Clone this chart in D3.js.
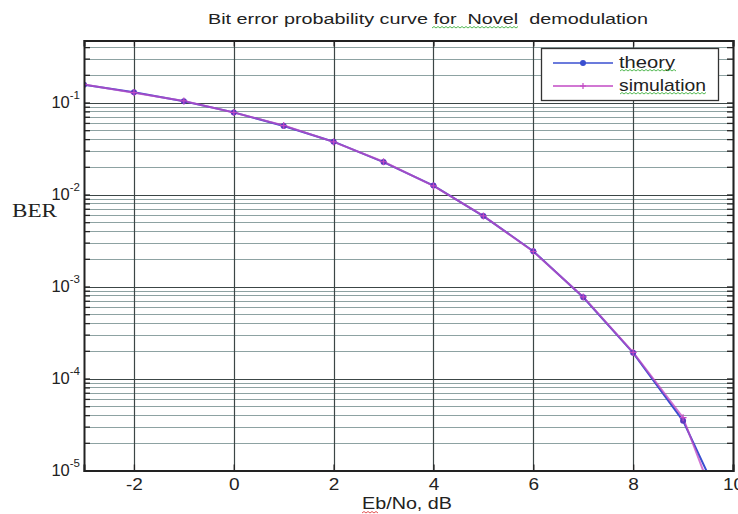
<!DOCTYPE html>
<html>
<head>
<meta charset="utf-8">
<script src="https://cdn.jsdelivr.net/npm/d3@7"></script>
<style>
  body { margin: 0; background: #fff; }
  text { font-family: "Liberation Sans", Arial, sans-serif; }
</style>
</head>
<body>
<div id="chart"></div>
<script>
// Eb/No points (dB)
var ebno = [-3, -2, -1, 0, 1, 2, 3, 4, 5, 6, 7, 8, 9, 10];
// bit error rate, theory
var ber_theory = [0.156, 0.129, 0.103, 0.0781, 0.0556, 0.0375, 0.0225, 0.0125,
                  0.00583, 0.00242, 7.64e-4, 1.9e-4, 3.47e-5, 2.4e-6];
// bit error rate, simulation
var ber_sim = [0.157, 0.128, 0.104, 0.0779, 0.0562, 0.0373, 0.0227, 0.0124,
               0.00585, 0.00240, 7.70e-4, 1.92e-4, 3.75e-5, 1.4e-6];
var x_ticks = [-2, 0, 2, 4, 6, 8, 10];
var y_major = [1e-5, 1e-4, 1e-3, 1e-2, 1e-1];
var y_labels = ["-5", "-4", "-3", "-2", "-1"];
var legend_names = ["theory", "simulation"];

var svg_size = { 'width': 738, 'height': 514 };
var plot = { 'left': 84, 'right': 733, 'top': 40.5, 'bottom': 470.5 };

var svg = d3.select("#chart")
    .append("svg")
    .attr('width', svg_size.width)
    .attr('height', svg_size.height);

var x_scale = d3.scaleLinear()
    .domain([-3, 10])
    .range([plot.left, plot.right]);

var y_scale = d3.scaleLog()
    .domain([1e-5, Math.pow(10, -0.326)])
    .range([plot.bottom, plot.top]);

// minor log ticks
var y_minor = [];
for (var k = -5; k <= -1; k++) {
    for (var m = 2; m <= 9; m++) {
        var v = m * Math.pow(10, k);
        if (v <= y_scale.domain()[1]) y_minor.push(v);
    }
}

// wavy spell-check underline, as in the picture
function squiggle(x1, x2, y, color) {
    var p = 'M' + x1 + ',' + y;
    for (var xx = x1, up = true; xx < x2; xx += 2, up = !up) {
        p += 'L' + (xx + 2) + ',' + (up ? y - 1.5 : y);
    }
    svg.append('path').attr('d', p)
        .style('fill', 'none').style('stroke', color).style('stroke-width', 0.9);
}

svg.append('rect')
    .attr('x', plot.left).attr('y', plot.top)
    .attr('width', plot.right - plot.left)
    .attr('height', plot.bottom - plot.top)
    .style('fill', '#fff');

// grid
var grid = svg.append('g');
grid.selectAll('.minor-h')
    .data(y_minor)
    .enter().append('line')
    .attr('x1', plot.left).attr('x2', plot.right)
    .attr('y1', function(d){ return Math.round(y_scale(d)) + 0.5; })
    .attr('y2', function(d){ return Math.round(y_scale(d)) + 0.5; })
    .style('stroke', '#8da2a2')
    .style('stroke-width', 1.2);

grid.selectAll('.major-h')
    .data(y_major)
    .enter().append('line')
    .attr('x1', plot.left).attr('x2', plot.right)
    .attr('y1', function(d){ return Math.round(y_scale(d)) + 0.5; })
    .attr('y2', function(d){ return Math.round(y_scale(d)) + 0.5; })
    .style('stroke', '#3c4646')
    .style('stroke-width', 1.2);

grid.selectAll('.major-v')
    .data(x_ticks)
    .enter().append('line')
    .attr('x1', function(d){ return Math.round(x_scale(d)) + 0.5; })
    .attr('x2', function(d){ return Math.round(x_scale(d)) + 0.5; })
    .attr('y1', plot.top).attr('y2', plot.bottom)
    .style('stroke', '#3c4646')
    .style('stroke-width', 1.2);

// curves
svg.append('clipPath').attr('id', 'clip')
    .append('rect')
    .attr('x', plot.left).attr('y', plot.top)
    .attr('width', plot.right - plot.left)
    .attr('height', plot.bottom - plot.top);

var curves = svg.append('g').attr('clip-path', 'url(#clip)');

var ber_line = d3.line()
    .x(function(d, i){ return x_scale(ebno[i]); })
    .y(function(d){ return y_scale(d); });

curves.append('path')
    .datum(ber_theory)
    .attr('d', ber_line)
    .style('fill', 'none')
    .style('stroke', '#3a4fd0')
    .style('stroke-width', 2);

curves.append('path')
    .datum(ber_sim)
    .attr('d', ber_line)
    .style('fill', 'none')
    .style('stroke', '#c24ac4')
    .style('stroke-width', 2)
    .style('opacity', 0.75);

curves.selectAll('.dot')
    .data(ber_theory)
    .enter().append('circle')
    .attr('cx', function(d, i){ return x_scale(ebno[i]); })
    .attr('cy', function(d){ return y_scale(d); })
    .attr('r', 3)
    .style('fill', '#5a3ac0');

curves.selectAll('.plus')
    .data(ber_sim)
    .enter().append('path')
    .attr('d', function(d, i){
        var cx = x_scale(ebno[i]), cy = y_scale(d);
        return 'M' + (cx - 3.5) + ',' + cy + 'H' + (cx + 3.5) +
               'M' + cx + ',' + (cy - 3.5) + 'V' + (cy + 3.5);
    })
    .style('stroke', '#c24ac4')
    .style('stroke-width', 1.2);

// axes, MATLAB style ticks inside
var axis_color = '#222';
var x_bottom = svg.append('g')
    .attr('transform', 'translate(0,' + plot.bottom + ')')
    .call(d3.axisBottom(x_scale).tickValues(x_ticks).tickSize(-6).tickPadding(7)
        .tickFormat(function(d){ return String(d); }));
var x_top = svg.append('g')
    .attr('transform', 'translate(0,' + plot.top + ')')
    .call(d3.axisTop(x_scale).tickValues(x_ticks).tickSize(-6).tickFormat(''));

var y_left = svg.append('g')
    .attr('transform', 'translate(' + plot.left + ',0)')
    .call(d3.axisLeft(y_scale).tickValues(y_major.concat(y_minor)).tickSize(-6).tickFormat(''));
var y_right = svg.append('g')
    .attr('transform', 'translate(' + plot.right + ',0)')
    .call(d3.axisRight(y_scale).tickValues(y_major.concat(y_minor)).tickSize(-6).tickFormat(''));

[x_bottom, x_top, y_left, y_right].forEach(function(g){
    g.select('.domain').style('stroke', axis_color).style('stroke-width', 2);
    g.selectAll('.tick line').style('stroke', axis_color).style('stroke-width', 1.3);
});

x_bottom.selectAll('.tick text')
    .style('font-family', '"Liberation Sans", Arial, sans-serif')
    .style('font-size', '17px')
    .style('fill', '#222')
    .attr('transform', 'scale(1.12,1)');

// y tick labels 10^k
var y_lab = svg.append('g').selectAll('.ylab')
    .data(y_major)
    .enter().append('text')
    .attr('x', plot.left - 4)
    .attr('y', function(d){ return y_scale(d) + 5; })
    .attr('text-anchor', 'end')
    .style('font-size', '16.5px')
    .style('fill', '#222');
y_lab.append('tspan').text('10');
y_lab.append('tspan')
    .attr('dy', -9)
    .style('font-size', '11.5px')
    .text(function(d, i){ return y_labels[i]; });

svg.append('text')
    .attr('x', 12).attr('y', 217)
    .attr('textLength', 45).attr('lengthAdjust', 'spacingAndGlyphs')
    .style('font-family', '"Liberation Serif", "Times New Roman", serif')
    .style('font-size', '19px')
    .style('fill', '#222')
    .text('BER');

svg.append('text')
    .attr('x', 362).attr('y', 509)
    .attr('textLength', 90).attr('lengthAdjust', 'spacingAndGlyphs')
    .style('font-size', '17px')
    .style('fill', '#222')
    .text('Eb/No, dB');
squiggle(362, 378, 513, '#e04040');

svg.append('text')
    .attr('x', 208).attr('y', 24)
    .attr('textLength', 440).attr('lengthAdjust', 'spacingAndGlyphs')
    .style('font-size', '15.5px')
    .style('fill', '#222')
    .style('white-space', 'pre')
    .text('Bit error probability curve for  Novel  demodulation');
squiggle(432, 518, 28, '#40b040');

// legend
var legend = svg.append('g');
legend.append('rect')
    .attr('x', 541.5).attr('y', 48.5)
    .attr('width', 177).attr('height', 52)
    .style('fill', '#fff')
    .style('stroke', '#333')
    .style('stroke-width', 1.3);

var legend_colors = ['#3a4fd0', '#c24ac4'];
var legend_widths = [56, 87];
legend_names.forEach(function(name, i){
    var ly = 63 + i * 23;
    legend.append('line')
        .attr('x1', 553).attr('x2', 613)
        .attr('y1', ly).attr('y2', ly)
        .style('stroke', legend_colors[i])
        .style('stroke-width', 1.5);
    if (i === 0) {
        legend.append('circle').attr('cx', 583).attr('cy', ly).attr('r', 3)
            .style('fill', '#3a4fd0');
    } else {
        legend.append('path')
            .attr('d', 'M580,' + ly + 'H586M583,' + (ly - 3) + 'V' + (ly + 3))
            .style('stroke', '#c24ac4').style('stroke-width', 1.2);
    }
    legend.append('text')
        .attr('x', 619).attr('y', ly + 5)
        .attr('textLength', legend_widths[i]).attr('lengthAdjust', 'spacingAndGlyphs')
        .style('font-size', '17px')
        .style('fill', '#222')
        .text(name);
    squiggle(620, 619 + legend_widths[i], ly + 8, '#40b040');
});
</script>
</body>
</html>
